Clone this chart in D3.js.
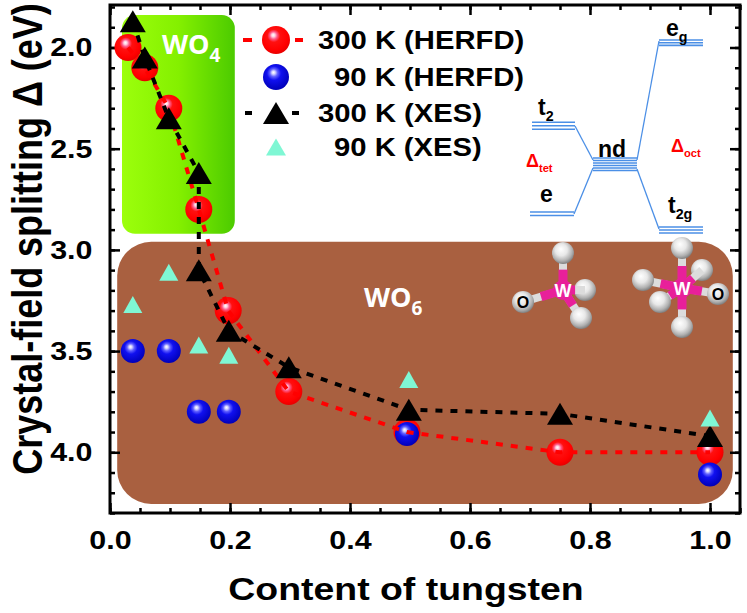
<!DOCTYPE html>
<html>
<head>
<meta charset="utf-8">
<script src="https://cdn.jsdelivr.net/npm/d3@7"></script>
<style>
  body { margin: 0; background: #fff; }
  svg { display: block; }
</style>
</head>
<body>
<script>
// values
const herfd300X = [0.03, 0.058, 0.098, 0.148, 0.197, 0.298, 0.495, 0.75, 1.0];
const herfd300Y = [2.0, 2.1, 2.3, 2.8, 3.3, 3.7, 3.9, 4.0, 4.0];
const herfd90X = [0.038, 0.098, 0.148, 0.198, 0.495, 1.0];
const herfd90Y = [3.5, 3.5, 3.8, 3.8, 3.91, 4.11];
const xes300X = [0.038, 0.058, 0.098, 0.148, 0.148, 0.198, 0.298, 0.498, 0.75, 1.0];
const xes300Y = [1.87, 2.05, 2.35, 2.62, 3.10, 3.40, 3.58, 3.79, 3.81, 3.92];
const xes90X = [0.038, 0.098, 0.148, 0.198, 0.498, 1.0];
const xes90Y = [3.27, 3.11, 3.47, 3.52, 3.64, 3.83];

const xMajor = [0, 0.2, 0.4, 0.6, 0.8, 1.0];
const yMajor = [2.0, 2.5, 3.0, 3.5, 4.0];
const legendLabels = ['300 K (HERFD)', '90 K (HERFD)', '300 K (XES)', '90 K (XES)'];

const w = 747, h = 613;
const SX = 1.17;   // the figure text is a bit wide
const font = "'Liberation Sans', Arial, sans-serif";

const svg = d3.select('body').append('svg')
  .attr('width', w)
  .attr('height', h);

const x = d3.scaleLinear().domain([0, 1.05]).range([110, 740]);
const y = d3.scaleLinear().domain([1.79, 4.30]).range([5, 513]);

// gradients
const defs = svg.append('defs');
function sphereGrad(id, stops) {
  const g = defs.append('radialGradient').attr('id', id)
    .attr('cx', '0.45').attr('cy', '0.4').attr('r', '0.6')
    .attr('fx', '0.4').attr('fy', '0.32');
  stops.forEach(s => g.append('stop').attr('offset', s[0]).attr('stop-color', s[1]));
}
sphereGrad('redBall', [[0, '#ffffff'], [0.1, '#ffd0e0'], [0.22, '#ff5a8a'], [0.38, '#ff1010'], [0.8, '#ff0000'], [1, '#e80000']]);
sphereGrad('blueBall', [[0, '#ffffff'], [0.1, '#d8d8ff'], [0.25, '#6060ff'], [0.45, '#1010f0'], [1, '#0000b8']]);
sphereGrad('whiteBall', [[0, '#ffffff'], [0.45, '#e8e8e8'], [0.8, '#b0b0b0'], [1, '#808080']]);

const green = defs.append('linearGradient').attr('id', 'greenBox')
  .attr('x1', 0).attr('x2', 1).attr('y1', 0).attr('y2', 0);
green.append('stop').attr('offset', 0).attr('stop-color', '#9cff0c');
green.append('stop').attr('offset', 0.5).attr('stop-color', '#84f000');
green.append('stop').attr('offset', 1).attr('stop-color', '#4ccb00');

// background regions
svg.append('rect')
  .attr('x', x(0.012)).attr('y', y(2.96))
  .attr('width', x(1.038) - x(0.012))
  .attr('height', y(4.255) - y(2.96))
  .attr('rx', 34)
  .attr('fill', '#a96040');

svg.append('rect')
  .attr('x', x(0.02)).attr('y', y(1.84))
  .attr('width', x(0.208) - x(0.02))
  .attr('height', y(2.92) - y(1.84))
  .attr('rx', 13)
  .attr('fill', 'url(#greenBox)');

function formula(px, py, sub) {
  const t = svg.append('text')
    .attr('x', px).attr('y', py)
    .attr('fill', '#fff')
    .style('font-family', "'Open Sans', sans-serif")
    .style('font-weight', 700)
    .style('font-size', '27px')
    .text('WO');
  t.append('tspan').attr('dy', 8).style('font-size', '19px').text(sub);
}
formula(162, 54, '4');
formula(364, 307, '6');

// axes
function axisStyle(g) {
  g.select('.domain').remove();
  g.selectAll('line').attr('stroke', '#000').attr('stroke-width', 2.5);
}
const xMinor = d3.range(0, 1.051, 0.05);
const yMinor = d3.range(1.8, 4.301, 0.1);

svg.append('g').attr('transform', 'translate(0,513)')
  .call(d3.axisBottom(x).tickValues(xMinor).tickSize(-5).tickFormat(''))
  .call(axisStyle);
svg.append('g').attr('transform', 'translate(0,5)')
  .call(d3.axisTop(x).tickValues(xMinor).tickSize(-5).tickFormat(''))
  .call(axisStyle);
svg.append('g').attr('transform', 'translate(0,5)')
  .call(d3.axisTop(x).tickValues(xMajor).tickSize(-10).tickFormat(''))
  .call(axisStyle);
svg.append('g').attr('transform', 'translate(110,0)')
  .call(d3.axisLeft(y).tickValues(yMinor).tickSize(-5).tickFormat(''))
  .call(axisStyle);
svg.append('g').attr('transform', 'translate(740,0)')
  .call(d3.axisRight(y).tickValues(yMinor).tickSize(-5).tickFormat(''))
  .call(axisStyle);
svg.append('g').attr('transform', 'translate(740,0)')
  .call(d3.axisRight(y).tickValues(yMajor).tickSize(-10).tickFormat(''))
  .call(axisStyle);

const xAxisG = svg.append('g').attr('transform', 'translate(0,513)')
  .call(d3.axisBottom(x).tickValues(xMajor).tickSize(-10).tickPadding(18).tickFormat(d3.format('.1f')))
  .call(axisStyle);
const yAxisG = svg.append('g').attr('transform', 'translate(110,0)')
  .call(d3.axisLeft(y).tickValues(yMajor).tickSize(-10).tickPadding(15).tickFormat(d3.format('.1f')))
  .call(axisStyle);
[xAxisG, yAxisG].forEach(g => g.selectAll('text')
  .attr('fill', '#000')
  .attr('transform', `scale(${SX},1)`)
  .style('font-family', font)
  .style('font-weight', 'bold')
  .style('font-size', '26px'));

svg.append('rect')
  .attr('x', 110).attr('y', 5)
  .attr('width', 630).attr('height', 508)
  .attr('fill', 'none')
  .attr('stroke', '#000')
  .attr('stroke-width', 3);

// axis titles
svg.append('text')
  .attr('transform', `translate(406,600) scale(${SX},1)`)
  .attr('text-anchor', 'middle')
  .style('font-family', font).style('font-weight', 'bold').style('font-size', '32px')
  .text('Content of tungsten');
svg.append('text')
  .attr('transform', `translate(42,239) scale(${SX},1) rotate(-90)`)
  .attr('text-anchor', 'middle')
  .style('font-family', font).style('font-weight', 'bold').style('font-size', '36px')
  .text('Crystal-field splitting \u0394 (eV)');

// markers
function tri(wd, ht) {
  return `M0,${-ht / 2}L${wd / 2},${ht / 2}L${-wd / 2},${ht / 2}Z`;
}
const herfd300 = herfd300X.map((v, i) => [v, herfd300Y[i]]);
const herfd90 = herfd90X.map((v, i) => [v, herfd90Y[i]]);
const xes300 = xes300X.map((v, i) => [v, xes300Y[i]]);
const xes90 = xes90X.map((v, i) => [v, xes90Y[i]]);

svg.append('g').selectAll('circle').data(herfd300).join('circle')
  .attr('cx', d => x(d[0])).attr('cy', d => y(d[1]))
  .attr('r', 13.5).attr('fill', 'url(#redBall)');
svg.append('g').selectAll('circle').data(herfd90).join('circle')
  .attr('cx', d => x(d[0])).attr('cy', d => y(d[1]))
  .attr('r', 12).attr('fill', 'url(#blueBall)');

const line = d3.line().x(d => x(d[0])).y(d => y(d[1]));
svg.append('path').datum(herfd300).attr('d', line)
  .attr('fill', 'none').attr('stroke', '#ff0000')
  .attr('stroke-width', 4).attr('stroke-dasharray', '7,8');
svg.append('path').datum(xes300).attr('d', line)
  .attr('fill', 'none').attr('stroke', '#000')
  .attr('stroke-width', 4).attr('stroke-dasharray', '7,8');

svg.append('g').selectAll('path').data(xes300).join('path')
  .attr('transform', d => `translate(${x(d[0])},${y(d[1])})`)
  .attr('d', tri(26, 22)).attr('fill', '#000');
svg.append('g').selectAll('path').data(xes90).join('path')
  .attr('transform', d => `translate(${x(d[0])},${y(d[1])})`)
  .attr('d', tri(19, 17)).attr('fill', '#7ff7d4');

// legend
const lg = svg.append('g');
const rowY = [40, 77, 113, 147];
lg.append('line').attr('x1', 243).attr('x2', 252).attr('y1', rowY[0]).attr('y2', rowY[0])
  .attr('stroke', '#ff0000').attr('stroke-width', 4);
lg.append('line').attr('x1', 295).attr('x2', 303).attr('y1', rowY[0]).attr('y2', rowY[0])
  .attr('stroke', '#ff0000').attr('stroke-width', 4);
lg.append('line').attr('x1', 245).attr('x2', 252).attr('y1', rowY[2]).attr('y2', rowY[2])
  .attr('stroke', '#000').attr('stroke-width', 4);
lg.append('line').attr('x1', 292).attr('x2', 299).attr('y1', rowY[2]).attr('y2', rowY[2])
  .attr('stroke', '#000').attr('stroke-width', 4);
lg.append('circle').attr('cx', 276).attr('cy', rowY[0]).attr('r', 14).attr('fill', 'url(#redBall)');
lg.append('circle').attr('cx', 276).attr('cy', rowY[1]).attr('r', 13).attr('fill', 'url(#blueBall)');
lg.append('path').attr('transform', `translate(276,${rowY[2]})`).attr('d', tri(26, 22)).attr('fill', '#000');
lg.append('path').attr('transform', `translate(276,${rowY[3]})`).attr('d', tri(20, 17)).attr('fill', '#7ff7d4');
lg.selectAll('text.lab').data(legendLabels).join('text')
  .attr('class', 'lab')
  .attr('transform', (d, i) => `translate(${d.startsWith('300') ? 318 : 334},${rowY[i] + 9}) scale(${SX},1)`)
  .style('font-family', font).style('font-weight', 'bold').style('font-size', '25px')
  .text(d => d);

// energy level inset
const blue = '#4b8fe6';
const ed = svg.append('g').attr('stroke', blue).attr('fill', 'none');
const levels = [
  { x1: 532, x2: 575, ys: [122.3, 125.7, 129.3] },
  { x1: 530, x2: 574, ys: [212, 215.5] },
  { x1: 593, x2: 637, ys: [158, 160.5, 163, 165.5, 168, 170.5] },
  { x1: 659, x2: 703, ys: [40, 42.7, 45.4] },
  { x1: 659, x2: 703, ys: [227, 230, 233] }
];
levels.forEach(l => l.ys.forEach(v => ed.append('line')
  .attr('x1', l.x1).attr('x2', l.x2).attr('y1', v).attr('y2', v).attr('stroke-width', 1.6)));
[[575, 126, 593, 160], [574, 214, 593, 168], [637, 160, 659, 41], [637, 169, 659, 229]]
  .forEach(c => ed.append('line').attr('x1', c[0]).attr('y1', c[1]).attr('x2', c[2]).attr('y2', c[3])
    .attr('stroke-width', 1.3));

function level(px, py, main, sub, color, size) {
  const t = svg.append('text').attr('x', px).attr('y', py)
    .attr('fill', color)
    .style('font-family', font).style('font-weight', 'bold').style('font-size', size + 'px')
    .text(main);
  if (sub) t.append('tspan').attr('dy', size * 0.28).style('font-size', (size * 0.62) + 'px').text(sub);
}
level(538, 115, 't', '2', '#000', 23);
level(540, 202, 'e', null, '#000', 23);
level(598, 157, 'nd', null, '#000', 23);
level(666, 36, 'e', 'g', '#000', 23);
level(668, 213, 't', '2g', '#000', 23);
level(526, 167, '\u0394', 'tet', '#ff0000', 18);
level(671, 152, '\u0394', 'oct', '#ff0000', 18);

// molecules
function molecule(cx, cy, balls) {
  const g = svg.append('g');
  const back = balls.filter(b => b.back), front = balls.filter(b => !b.back);
  function bond(b) {
    g.append('line').attr('x1', cx).attr('y1', cy).attr('x2', cx + b.dx).attr('y2', cy + b.dy)
      .attr('stroke', '#dcdcdc').attr('stroke-width', 8);
    g.append('line').attr('x1', cx).attr('y1', cy).attr('x2', cx + b.dx * 0.55).attr('y2', cy + b.dy * 0.55)
      .attr('stroke', '#e8209a').attr('stroke-width', 9);
  }
  function ball(b) {
    g.append('circle').attr('cx', cx + b.dx).attr('cy', cy + b.dy).attr('r', 11)
      .attr('fill', 'url(#whiteBall)');
    if (b.o) g.append('text').attr('x', cx + b.dx).attr('y', cy + b.dy + 5.5)
      .attr('text-anchor', 'middle')
      .style('font-family', font).style('font-weight', 'bold').style('font-size', '16px')
      .text('O');
  }
  back.forEach(b => { ball(b); bond(b); });
  g.append('circle').attr('cx', cx).attr('cy', cy).attr('r', 10).attr('fill', '#e8209a');
  front.forEach(b => { bond(b); });
  g.append('text').attr('x', cx).attr('y', cy + 6.5).attr('text-anchor', 'middle')
    .attr('fill', '#fff')
    .style('font-family', font).style('font-weight', 'bold').style('font-size', '18px')
    .text('W');
  front.forEach(b => ball(b));
}
molecule(563, 290, [
  { dx: 22, dy: 0, back: true },
  { dx: 0, dy: -37 },
  { dx: 18, dy: 28 },
  { dx: -40, dy: 12, o: true }
]);
molecule(682, 288, [
  { dx: 20, dy: -18, back: true },
  { dx: -39, dy: -8 },
  { dx: 0, dy: -40 },
  { dx: 36, dy: 6, o: true },
  { dx: -22, dy: 14 },
  { dx: 0, dy: 39 }
]);
</script>
</body>
</html>
